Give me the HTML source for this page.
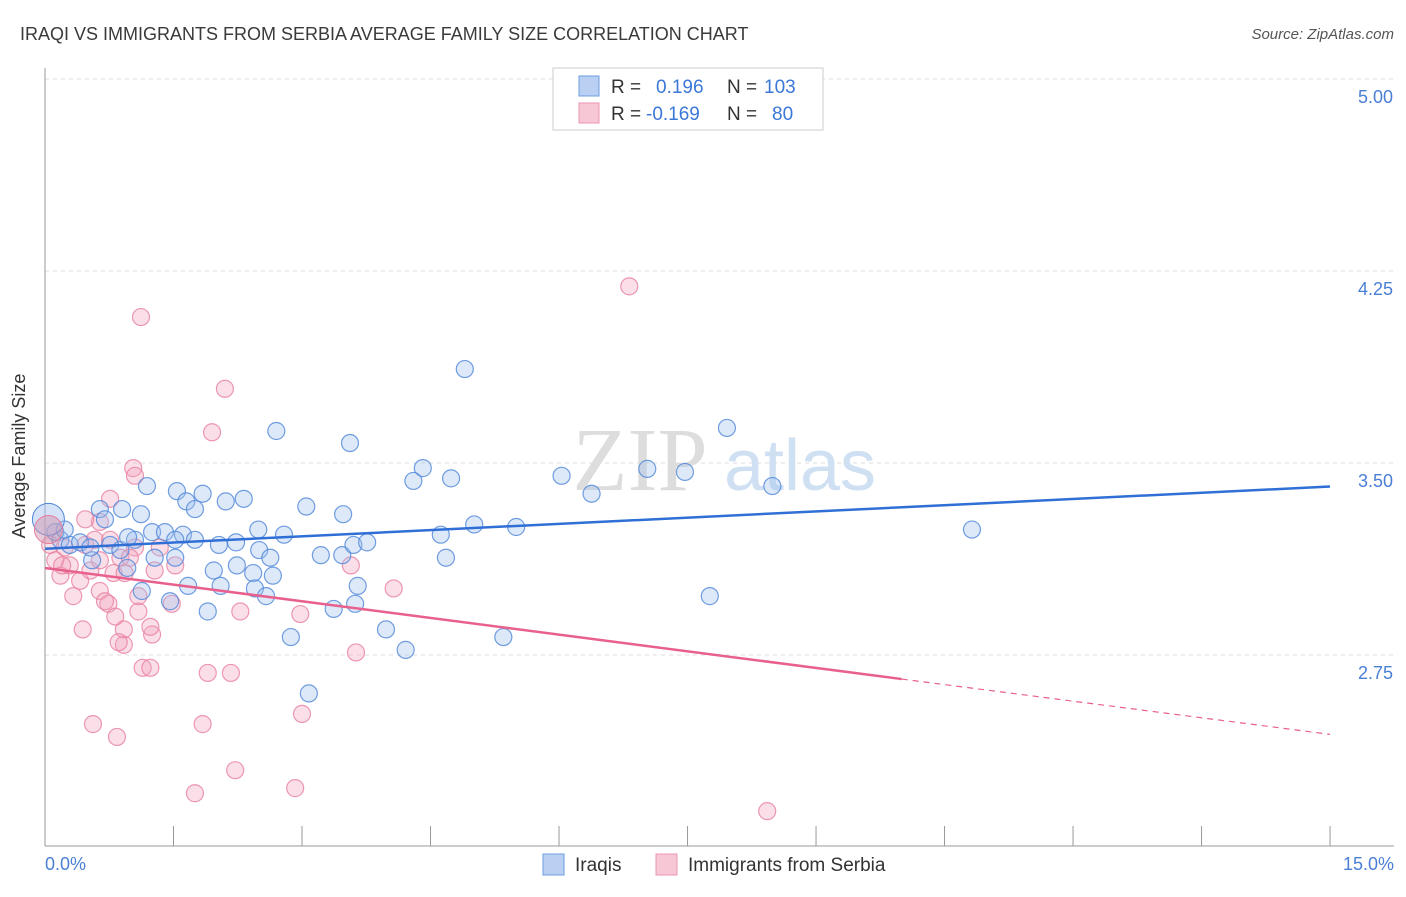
<!DOCTYPE html>
<html><head><meta charset="utf-8"><style>
body{margin:0;background:#fff;font-family:"Liberation Sans",sans-serif}
</style></head><body>
<svg width="1406" height="892" xmlns="http://www.w3.org/2000/svg" font-family="Liberation Sans, sans-serif">
<text x="20" y="40" font-size="18" fill="#3a3a3a">IRAQI VS IMMIGRANTS FROM SERBIA AVERAGE FAMILY SIZE CORRELATION CHART</text>
<text x="1394" y="39" font-size="15" fill="#555" font-style="italic" text-anchor="end">Source: ZipAtlas.com</text>
<g id="grid"></g>
<line x1="45" y1="68" x2="45" y2="846" stroke="#999"/>
<line x1="45" y1="846" x2="1394" y2="846" stroke="#999"/>
<g id="xticks"></g>
<text x="25" y="456" font-size="18" fill="#333" text-anchor="middle" transform="rotate(-90 25 456)">Average Family Size</text>
<text x="45" y="870" font-size="18" fill="#4a7fd6">0.0%</text>
<text x="1394" y="870" font-size="18" fill="#4a7fd6" text-anchor="end">15.0%</text>
<g><text x="640" y="490" font-size="90" fill="#ddd" font-family="Liberation Serif, serif" text-anchor="middle">ZIP</text><text x="800" y="490" font-size="72" fill="#cfe0f3" text-anchor="middle">atlas</text></g>
<g id="pts"></g>
<g id="lines"></g>
<g>
<rect x="553" y="68" width="270" height="62" fill="#fff" stroke="#ccc"/>
<rect x="579" y="76" width="20" height="20" fill="#b9d0f2" stroke="#6d9ee0"/>
<rect x="579" y="103" width="20" height="20" fill="#f8c7d6" stroke="#ec94b0"/>
<text x="611" y="93" font-size="19" fill="#333">R = </text><text x="656" y="93" font-size="19" fill="#3b78d8">0.196</text>
<text x="727" y="93" font-size="19" fill="#333">N = </text><text x="764" y="93" font-size="19" fill="#3b78d8">103</text>
<text x="611" y="120" font-size="19" fill="#333">R = </text><text x="646" y="120" font-size="19" fill="#3b78d8">-0.169</text>
<text x="727" y="120" font-size="19" fill="#333">N = </text><text x="772" y="120" font-size="19" fill="#3b78d8">80</text>
</g>
<g>
<rect x="543" y="854" width="21" height="21" fill="#b9d0f2" stroke="#6d9ee0"/>
<text x="575" y="871" font-size="19" fill="#333">Iraqis</text>
<rect x="656" y="854" width="21" height="21" fill="#f8c7d6" stroke="#ec94b0"/>
<text x="688" y="871" font-size="19" fill="#333">Immigrants from Serbia</text>
</g>
</svg>
<script>
const yTicks=[5.00,4.25,3.50,2.75];
const xTickVals=[0,1.5,3,4.5,6,7.5,9,10.5,12,13.5,15];
const blueX=[4.9,2.7,3.56,7.96,7.03,7.47,4.41,4.74,4.30,6.03,6.38,8.49,10.82,7.76,5.35,4.21,3.98,3.08,2.87,1.19,1.54,1.84,1.65,1.75,2.11,2.32,3.05,3.48,2.49,2.79,0.64,0.90,1.12,1.25,1.40,1.61,1.75,2.03,2.23,2.50,2.63,3.22,3.47,3.60,3.76,4.62,5.01,5.50,4.68,1.28,1.52,1.67,1.97,2.05,2.24,2.43,2.66,2.45,2.58,1.90,1.46,3.65,3.62,3.37,0.96,1.13,0.55,0.76,0.18,0.29,0.41,0.88,1.05,0.12,0.23,0.70,1.52,0.97,0.53];
const blueY=[3.867,3.625,3.578,3.637,3.477,3.465,3.48,3.44,3.43,3.45,3.38,3.41,3.24,2.98,2.82,2.77,2.85,2.60,2.82,3.41,3.39,3.38,3.35,3.32,3.35,3.36,3.33,3.30,3.24,3.22,3.32,3.32,3.30,3.23,3.23,3.22,3.20,3.18,3.19,3.16,3.13,3.14,3.14,3.18,3.19,3.22,3.26,3.25,3.13,3.13,3.13,3.02,3.08,3.02,3.10,3.07,3.06,3.01,2.98,2.92,2.96,3.02,2.95,2.93,3.09,3.00,3.12,3.18,3.20,3.18,3.19,3.16,3.20,3.23,3.24,3.28,3.20,3.21,3.17];
const pinkX=[6.82,1.12,2.10,1.95,1.03,1.05,0.76,0.64,4.07,3.57,2.98,3.63,3.00,2.28,1.90,2.17,1.84,2.22,1.75,2.92,8.43,0.56,0.84,0.44,1.14,1.23,0.92,0.92,1.25,1.23,0.86,1.09,1.48,1.09,0.64,0.74,0.33,0.41,0.18,0.29,0.53,0.64,0.80,0.93,0.88,1.28,1.52,0.12,0.06,0.23,0.47,0.58,0.76,1.05,1.34,0.47,0.20,0.99,0.70,0.82];
const pinkY=[4.19,4.07,3.79,3.62,3.48,3.45,3.36,3.27,3.01,3.10,2.91,2.76,2.52,2.92,2.68,2.68,2.48,2.30,2.21,2.23,2.14,2.48,2.43,2.85,2.70,2.70,2.79,2.85,2.83,2.86,2.80,2.92,2.95,2.98,3.00,2.95,2.98,3.04,3.06,3.10,3.08,3.12,3.07,3.07,3.13,3.08,3.10,3.12,3.18,3.17,3.18,3.20,3.20,3.17,3.17,3.28,3.10,3.13,2.96,2.90];
const bigBlue=[0.04,3.28], bigPink=[0.04,3.24];
const blueTrend=[[0,3.165],[15,3.408]];
const pinkTrend=[[0,3.09],[10,2.656],[15,2.44]];
const NS="http://www.w3.org/2000/svg";
const X=v=>45+v*85.67, Y=v=>79+(5-v)*256;
function mk(t,a,p){const e=document.createElementNS(NS,t);for(const k in a)e.setAttribute(k,a[k]);p.appendChild(e);return e;}
const grid=document.getElementById('grid');
yTicks.forEach(v=>{
 const l=mk('line',{x1:45,x2:1394,y1:Y(v),y2:Y(v),stroke:'#ddd','stroke-dasharray':'4,4'},grid);
 
 
 const t=mk('text',{x:1393,y:Y(v)+24,'font-size':18,fill:'#4a7fd6','text-anchor':'end'},grid);
 t.textContent=v.toFixed(2);
 
 
});
const xt=document.getElementById('xticks');
xTickVals.forEach(v=>{
 const l=mk('line',{x1:X(v),x2:X(v),y1:826,y2:846,stroke:'#999'},xt);
 
 
});
const pts=document.getElementById('pts');
function dots(xs,ys,fill,stroke,name){xs.forEach((x,i)=>{
 const c=mk('circle',{cx:X(x),cy:Y(ys[i]),r:8.5,fill:fill,'fill-opacity':0.35,stroke:stroke,'stroke-opacity':0.8,'stroke-width':1.2},pts);
 
 
});}
dots(pinkX,pinkY,'#f2a3bc','#e8809f','point-serbia');
dots(blueX,blueY,'#9fc0ee','#4f86d8','point-iraqi');
let b=mk('circle',{cx:X(bigBlue[0]),cy:Y(bigBlue[1]),r:16,fill:'#9fc0ee','fill-opacity':0.45,stroke:'#4f86d8'},pts);


let p=mk('circle',{cx:X(bigPink[0]),cy:Y(bigPink[1]),r:14,fill:'#d496b0','fill-opacity':0.5,stroke:'#e8809f'},pts);


const ln=document.getElementById('lines');
let bl=mk('line',{x1:X(blueTrend[0][0]),y1:Y(blueTrend[0][1]),x2:X(blueTrend[1][0]),y2:Y(blueTrend[1][1]),stroke:'#2f6fd6','stroke-width':2.5},ln);


let pl=mk('line',{x1:X(pinkTrend[0][0]),y1:Y(pinkTrend[0][1]),x2:X(pinkTrend[1][0]),y2:Y(pinkTrend[1][1]),stroke:'#e8608c','stroke-width':2.5},ln);


let pd=mk('line',{x1:X(pinkTrend[1][0]),y1:Y(pinkTrend[1][1]),x2:X(pinkTrend[2][0]),y2:Y(pinkTrend[2][1]),stroke:'#e8608c','stroke-width':1.2,'stroke-dasharray':'6,5'},ln);


</script>
</body></html>
